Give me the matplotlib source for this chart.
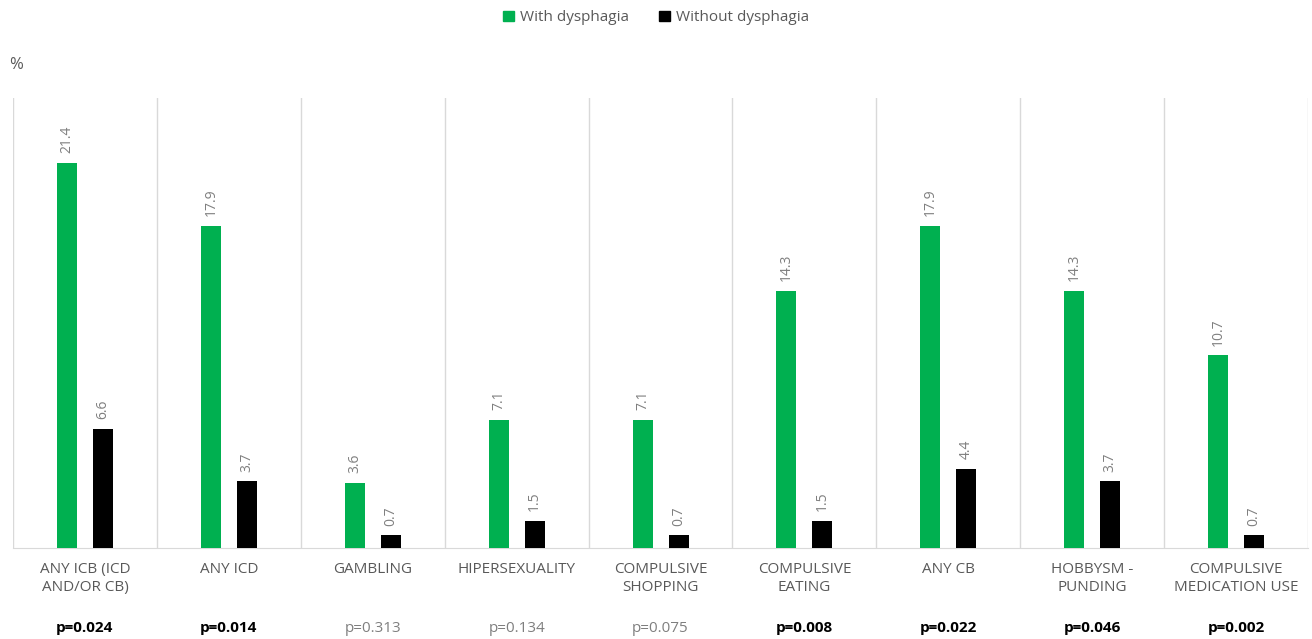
import matplotlib
matplotlib.use("Agg")
import matplotlib.pyplot as plt
import matplotlib.patches as mpatches
import numpy as np

categories = [
    "ANY ICB (ICD\nAND/OR CB)", "ANY ICD", "GAMBLING", "HIPERSEXUALITY",
    "COMPULSIVE\nSHOPPING", "COMPULSIVE\nEATING", "ANY CB",
    "HOBBYSM -\nPUNDING", "COMPULSIVE\nMEDICATION USE",
]
with_dysphagia = [21.4, 17.9, 3.6, 7.1, 7.1, 14.3, 17.9, 14.3, 10.7]
without_dysphagia = [6.6, 3.7, 0.7, 1.5, 0.7, 1.5, 4.4, 3.7, 0.7]
p_values = ["p=0.024", "p=0.014", "p=0.313", "p=0.134", "p=0.075",
            "p=0.008", "p=0.022", "p=0.046", "p=0.002"]
significant = [True, True, False, False, False, True, True, True, True]

GREEN = "#00B050"
BLACK = "#000000"
GRAY = "#7F7F7F"
GRID = "#D9D9D9"

plt.rcParams["font.family"] = ["Open Sans", "DejaVu Sans"]

fig = plt.figure(figsize=(13.12, 6.39), dpi=100)
ax = fig.add_axes([0.0099, 0.1424, 0.9871, 0.7042])

n = len(categories)
x = np.arange(n)
w = 0.139
off = 0.125

ax.bar(x - off, with_dysphagia, width=w, color=GREEN, zorder=3)
ax.bar(x + off, without_dysphagia, width=w, color=BLACK, zorder=3)

for i in range(n):
    ax.text(x[i] - off, with_dysphagia[i] + 0.55, f"{with_dysphagia[i]:.1f}",
            rotation=90, ha="center", va="bottom", fontsize=10, color=GRAY)
    ax.text(x[i] + off, without_dysphagia[i] + 0.55, f"{without_dysphagia[i]:.1f}",
            rotation=90, ha="center", va="bottom", fontsize=10, color=GRAY)

# separators between categories
for b in np.arange(n + 1) - 0.5:
    ax.axvline(b, color=GRID, linewidth=1, zorder=1)

ax.set_xlim(-0.5, n - 0.5)
ax.set_ylim(0, 25)
ax.set_yticks([])
ax.set_xticks([])
for s in ["top", "right", "left"]:
    ax.spines[s].set_visible(False)
ax.spines["bottom"].set_color(GRID)

# category labels and p-values
for i in range(n):
    ax.text(x[i], -0.75, categories[i], ha="center", va="top", fontsize=11,
            color="#595959", linespacing=1.3)
    ax.text(x[i], -4.46, p_values[i], ha="center", va="center", fontsize=11,
            color="#000000" if significant[i] else GRAY,
            fontweight="bold" if significant[i] else "normal")

fig.text(0.007, 0.898, "%", fontsize=12, color="#595959", ha="left", va="center")

handles = [mpatches.Patch(color=GREEN, label="With dysphagia"),
           mpatches.Patch(color=BLACK, label="Without dysphagia")]
leg = fig.legend(handles=handles, loc="center", bbox_to_anchor=(0.5, 0.972), ncol=2,
                 frameon=False, fontsize=11, handlelength=0.7, handleheight=0.7,
                 handletextpad=0.4, columnspacing=2.0)
for t in leg.get_texts():
    t.set_color("#595959")

fig.savefig("out.png", dpi=100)
